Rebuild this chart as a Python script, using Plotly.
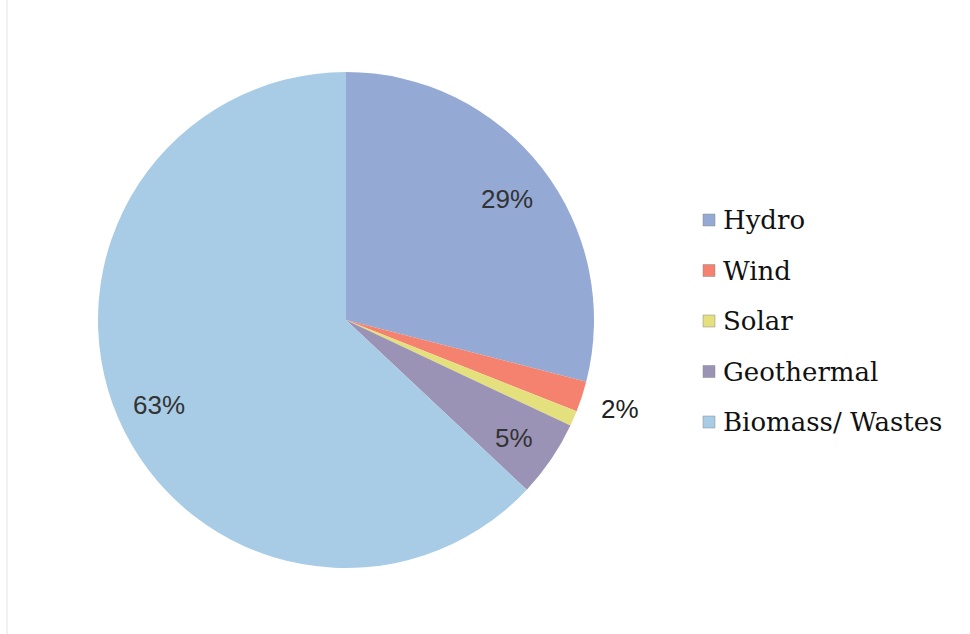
import math
import plotly.graph_objects as go

# Share of renewable sources
labels = ["Hydro", "Wind", "Solar", "Geothermal", "Biomass/ Wastes"]
values = [29, 2, 1, 5, 63]
show_label = [True, True, False, True, True]
label_outside = [False, True, False, False, False]
colors = ["#94A9D3", "#F4826F", "#E4E07E", "#9B93B5", "#A8CCE6"]

W, H = 970, 634
# pie placement in pixels
cx, cy, R = 346, 320, 248

fig = go.Figure(
    go.Pie(
        labels=labels,
        values=values,
        textinfo="none",
        sort=False,
        direction="clockwise",
        rotation=0,
        marker=dict(colors=colors, line=dict(width=0)),
        domain=dict(x=[(cx - R) / W, (cx + R) / W], y=[(H - cy - R) / H, (H - cy + R) / H]),
        showlegend=False,
        hoverinfo="label+percent",
    )
)

# Percentage labels placed at the middle angle of each slice
total = sum(values)
cum = 0.0
for v, show, outside in zip(values, show_label, label_outside):
    mid = (cum + v / 2) / total * 2 * math.pi  # clockwise from 12 o'clock
    cum += v
    if not show:
        continue
    rf = 1.16 if outside else 0.82
    px = cx + rf * R * math.sin(mid)
    py = cy - rf * R * math.cos(mid) + (0 if outside else 4)
    fig.add_annotation(
        x=px / W, y=(H - py) / H, xref="paper", yref="paper",
        text=f"{round(v / total * 100)}%", showarrow=False,
        xanchor="center", yanchor="middle",
        font=dict(family="Liberation Sans", size=26,
                  color="#222222" if outside else "#333333"),
    )

# Legend drawn as swatches and labels on the right
leg_x0 = 703
leg_y0 = 220
leg_step = 50.5
sw = 12
for i, (lab, col) in enumerate(zip(labels, colors)):
    yc = leg_y0 + i * leg_step
    fig.add_shape(
        type="rect", xref="paper", yref="paper",
        x0=leg_x0 / W, x1=(leg_x0 + sw) / W,
        y0=(H - yc - sw / 2) / H, y1=(H - yc + sw / 2) / H,
        fillcolor=col, line=dict(color="#8a8a8a", width=0.5),
    )
    fig.add_annotation(
        x=(leg_x0 + sw + 6) / W, y=(H - yc) / H, xref="paper", yref="paper",
        text=lab, showarrow=False, xanchor="left", yanchor="middle",
        font=dict(family="DejaVu Serif", size=26, color="#111111"),
    )

# Faint frame line on the left
fig.add_shape(type="line", xref="paper", yref="paper",
              x0=7 / W, x1=7 / W, y0=0, y1=1,
              line=dict(color="#e2e2e2", width=1))

fig.update_layout(
    width=W, height=H,
    margin=dict(l=0, r=0, t=0, b=0),
    paper_bgcolor="white",
    plot_bgcolor="white",
)

fig.write_html("out.html")
